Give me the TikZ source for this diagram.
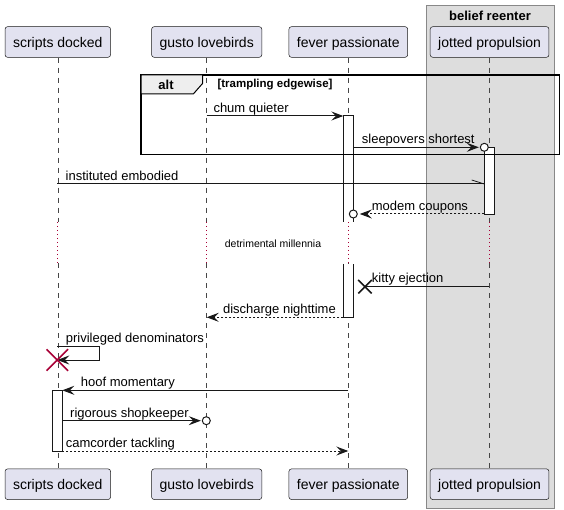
\documentclass[tikz,border=0pt]{standalone}
\usepackage{fontspec}
\setmainfont{Liberation Sans}
\usetikzlibrary{arrows.meta,positioning,shapes.misc}
\definecolor{partfill}{HTML}{E2E2F0}
\definecolor{partline}{HTML}{181818}
\definecolor{boxfill}{HTML}{DDDDDD}
\definecolor{boxline}{HTML}{888888}
\definecolor{tabfill}{HTML}{EEEEEE}
\definecolor{killred}{HTML}{A80036}
\tikzset{
    part/.style={draw=partline, line width=0.5pt, fill=partfill, rounded corners=2.5pt,
        inner xsep=8pt, minimum height=30.6pt, text height=11pt, text depth=0pt,
        font=\fontsize{14}{16}\selectfont},
    lifeline/.style={draw=partline!80, line width=0.5pt, dash pattern=on 5pt off 5pt},
    delayline/.style={draw=killred, line width=1pt, dash pattern=on 1pt off 3pt},
    actbar/.style={draw=partline, line width=1pt},
    msg/.style={draw=partline, line width=1pt, -{Stealth[length=12pt,width=9pt,inset=4.5pt]}},
    reply/.style={msg, dash pattern=on 2pt off 2pt},
    lbl/.style={inner sep=0pt, anchor=base west, font=\fontsize{13}{15}\selectfont},
    endcirc/.style={circle, draw=partline, line width=1pt, fill=white, inner sep=0pt, minimum size=8pt},
    lost/.style={cross out, draw=partline, line width=1.5pt, inner sep=0pt, minimum size=12pt},
    kill/.style={cross out, draw=killred, line width=1.5pt, inner sep=0pt, minimum size=20pt}
}
\begin{document}
\begin{tikzpicture}[x=1pt,y=-1pt]
    \useasboundingbox (0,0) rectangle (564,510);
    % box round the last participant
    \draw[fill=boxfill, draw=boxline, line width=1pt] (426.7,6) rectangle (554,508);
    \node[font=\bfseries\fontsize{13}{15}\selectfont] (boxtitle) at (490,16) {belief reenter};
    % participants, top and bottom
    \node[part] (pA) at (57.8,42) {scripts docked};
    \node[part] (pB) at (206.7,42) {gusto lovebirds};
    \node[part] (pC) at (348.3,42) {fever passionate};
    \node[part] (pD) at (489.6,42) {jotted propulsion};
    \node[part] (qA) at (57.8,484.2) {scripts docked};
    \node[part] (qB) at (206.7,484.2) {gusto lovebirds};
    \node[part] (qC) at (348.3,484.2) {fever passionate};
    \node[part] (qD) at (489.6,484.2) {jotted propulsion};
    \foreach \p in {A,B,C,D} {
        \draw[lifeline] (p\p.south) -- (p\p.south |- 0,222);
        \draw[delayline] (p\p.south |- 0,222) -- (p\p.south |- 0,263);
        \draw[lifeline] (p\p.south |- 0,263) -- (q\p.north);
    }
    % activations
    \fill[white] (343.3,116) rectangle (353.3,222);
    \draw[actbar] (343.3,222) -- (343.3,116) -- (353.3,116) -- (353.3,222);
    \fill[white] (343.3,264) rectangle (353.3,317.3);
    \draw[actbar] (343.3,264) -- (343.3,317.3) -- (353.3,317.3) -- (353.3,264);
    \draw[actbar, fill=white] (484.3,147.3) rectangle (494.3,214.3);
    \draw[actbar, fill=white] (52.3,390.3) rectangle (62.3,451);
    % alt group
    \draw[line width=1.5pt] (141,75) rectangle (559.3,154.3);
    \draw[fill=tabfill, line width=1pt] (141,75) -- (202.7,75) -- (202.7,83.3) -- (193.3,94) -- (141,94) -- cycle;
    \node[font=\bfseries\fontsize{13}{15}\selectfont] (alt) at (166,85) {alt};
    \node[anchor=west, inner sep=0pt, font=\bfseries\fontsize{11.5}{13}\selectfont] (guard) at (217.3,85) {[trampling edgewise]};
    % message ends
    \coordinate (m1s) at (206.7,116);
    \coordinate (m1e) at (343.3,116);
    \coordinate (m2s) at (353.3,147.3);
    \node[endcirc] (c2) at (484.3,147.3) {};
    \coordinate (m3s) at (57.3,184);
    \coordinate (m3e) at (484.3,184);
    \coordinate (m4s) at (484.3,214);
    \node[endcirc] (c4) at (353.3,214) {};
    \coordinate (m6s) at (489.3,286.7);
    \node[lost] (x6) at (365,286.7) {};
    \coordinate (m7s) at (343.3,317.3);
    \coordinate (m7e) at (206.7,317.3);
    \coordinate (m8s) at (57.3,346);
    \coordinate (m8e) at (57.3,360);
    \coordinate (m9s) at (348.3,390.3);
    \coordinate (m9e) at (62.3,390.3);
    \coordinate (m10s) at (62.3,420.7);
    \node[endcirc] (c10) at (206.3,420.7) {};
    \coordinate (m11s) at (62.3,451);
    \coordinate (m11e) at (348.3,451);
    % messages
    \draw[msg] (m1s) -- (m1e);
    \node[lbl] (t1) at (213.3,112.5) {chum quieter};
    \draw[msg, shorten >=1pt] (m2s) -- (c2.west);
    \node[lbl] (t2) at (361.7,143.5) {sleepovers shortest};
    \draw[partline, line width=1pt] (m3s) -- (m3e);
    \draw[partline, line width=0.8pt] (m3e) -- ++(-12.6,-4);
    \node[lbl] (t3) at (65.5,180.3) {instituted embodied};
    \draw[reply, shorten >=2pt] (m4s) -- (c4.east);
    \node[lbl] (t4) at (371.7,210.3) {modem coupons};
    \node[font=\fontsize{10.5}{12}\selectfont] (delay) at (273,244) {detrimental millennia};
    \draw[partline, line width=1pt] (m6s) -- (x6.center);
    \node[lbl] (t6) at (371.7,283) {kitty ejection};
    \draw[reply] (m7s) -- (m7e);
    \node[lbl, anchor=base east] (t7) at (336,313.5) {discharge nighttime};
    \draw[msg] (m8s) -- ++(42,0) |- (m8e);
    \node[kill] (x8) at (m8e) {};
    \node[lbl] (t8) at (65.7,342.3) {privileged denominators};
    \draw[msg] (m9s) -- (m9e);
    \node[lbl] (t9) at (80.7,386.5) {hoof momentary};
    \draw[msg, shorten >=1pt] (m10s) -- (c10.west);
    \node[lbl] (t10) at (70,417) {rigorous shopkeeper};
    \draw[reply] (m11s) -- (m11e);
    \node[lbl] (t11) at (65.7,447.3) {camcorder tackling};
\end{tikzpicture}
\end{document}
